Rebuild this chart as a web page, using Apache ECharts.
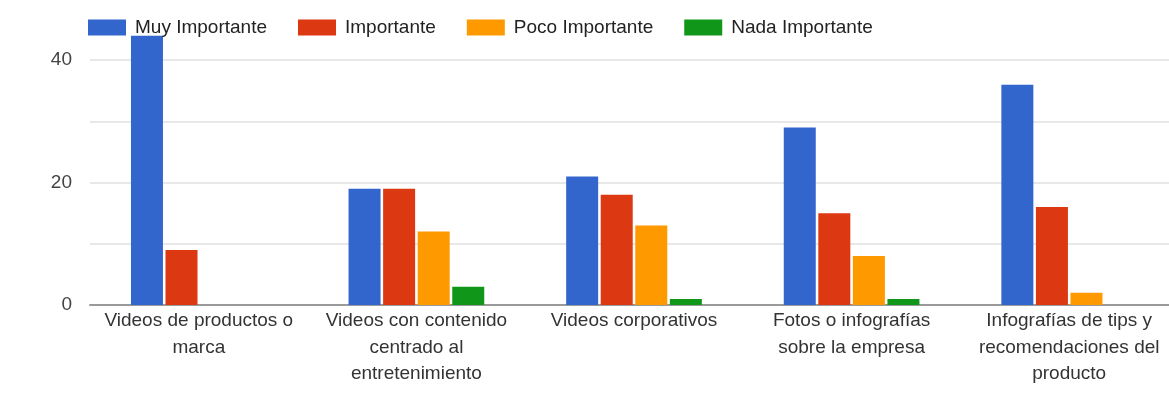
<!DOCTYPE html>
<html>
<head>
<meta charset="utf-8">
<script src="https://cdn.jsdelivr.net/npm/echarts@6/dist/echarts.min.js"></script>
<style>
  html, body { margin: 0; padding: 0; background: #ffffff; overflow: hidden; }
  /* the plot runs slightly past the right and top edges of the page */
  #chart { width: 1200px; height: 424px; margin-top: -10px; }
</style>
</head>
<body>
<div id="chart"></div>
<script>
// Content categories shown along the x axis
const categories = [
  'Videos de productos o\nmarca',
  'Videos con contenido\ncentrado al\nentretenimiento',
  'Videos corporativos',
  'Fotos o infografías\nsobre la empresa',
  'Infografías de tips y\nrecomendaciones del\nproducto'
];

// Responses per importance level
const muyImportante   = [44, 19, 21, 29, 36];
const importante      = [9, 19, 18, 15, 16];
const pocoImportante  = [0, 12, 13, 8, 2];
const nadaImportante  = [0, 3, 1, 1, 0];

const seriesNames = ['Muy Importante', 'Importante', 'Poco Importante', 'Nada Importante'];
const seriesColors = ['#3366cc', '#dc3912', '#ff9900', '#109618'];
const seriesValues = [muyImportante, importante, pocoImportante, nadaImportante];

// Value-axis labels that are printed (grid lines every 10)
const yTickLabels = [0, 20, 40];

const chart = echarts.init(document.getElementById('chart'), null, { renderer: 'canvas' });

const font = 'Liberation Sans, Arial, sans-serif';

chart.setOption({
  backgroundColor: '#ffffff',
  animation: false,
  textStyle: { fontFamily: font },
  legend: {
    left: 88,
    top: 28,
    padding: 0,
    itemWidth: 38,
    itemHeight: 16,
    itemGap: 31,
    icon: 'rect',
    textStyle: { fontFamily: font, fontSize: 19, color: '#222222', padding: [0, 0, 0, 4] },
    data: seriesNames
  },
  grid: {
    left: 90,
    top: 9,
    width: 1088,
    height: 306,
    containLabel: false
  },
  xAxis: {
    type: 'category',
    data: categories,
    axisTick: { show: false },
    axisLine: { show: true, lineStyle: { color: '#9a9a9a', width: 2 } },
    axisLabel: {
      interval: 0,
      margin: 3,
      fontFamily: font,
      fontSize: 19,
      lineHeight: 26.5,
      color: '#333333',
      align: 'center'
    }
  },
  yAxis: {
    type: 'value',
    min: 0,
    max: 50,
    interval: 10,
    axisLine: { show: false },
    axisTick: { show: false },
    splitLine: { show: true, lineStyle: { color: '#e8e8e8', width: 2 } },
    axisLabel: {
      margin: 18,
      fontFamily: font,
      fontSize: 19,
      color: '#444444',
      formatter: function (v) { return yTickLabels.indexOf(v) >= 0 ? String(v) : ''; }
    }
  },
  series: seriesNames.map(function (name, i) {
    return {
      name: name,
      type: 'bar',
      data: seriesValues[i],
      barWidth: 32,
      barGap: '8%',
      itemStyle: { color: seriesColors[i] }
    };
  })
});
</script>
</body>
</html>
